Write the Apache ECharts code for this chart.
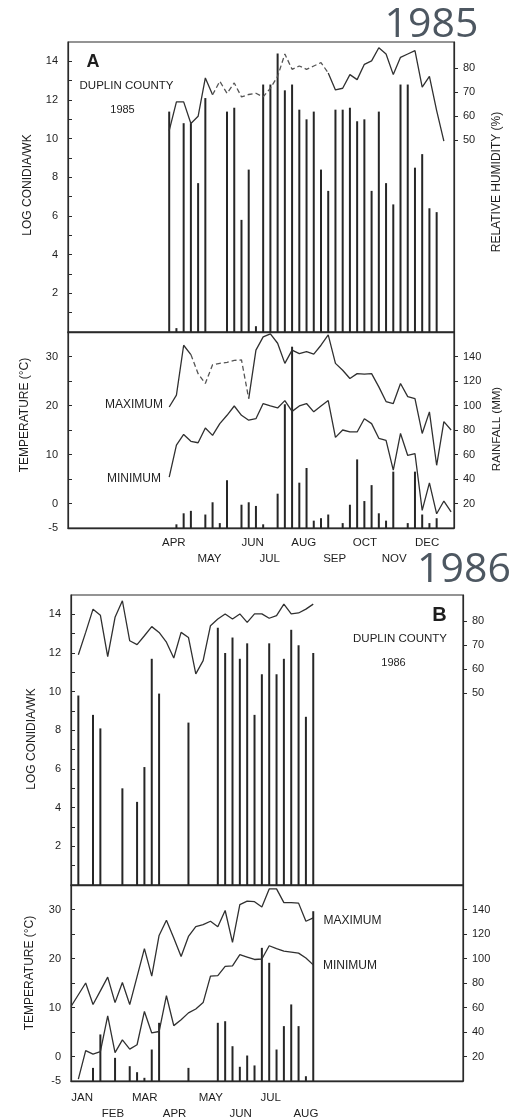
<!DOCTYPE html>
<html>
<head>
<meta charset="utf-8">
<script src="https://cdn.jsdelivr.net/npm/echarts@6/dist/echarts.min.js"></script>
<style>
html,body{margin:0;padding:0;background:#fff;}
#c{width:517px;height:1118px;}
</style>
</head>
<body>
<div id="c"></div>
<script>
// ---------- DATA (x = week of year) ----------
// Panel A (1985)
const conidiaWeeksA = [14,15,16,17,18,19,22,23,24,25,26,27,28,29,30,31,32,33,34,35,36,37,38,39,40,41,42,43,44,45,46,47,48,49,50,51];
const conidiaA = [11.4,0.2,10.8,10.8,7.7,12.1,11.4,11.6,5.8,8.4,0.3,12.8,12.8,14.4,12.5,12.8,11.5,11.0,11.4,8.4,7.3,11.5,11.5,11.6,10.9,11.0,7.3,11.4,7.7,6.6,12.8,12.8,8.5,9.2,6.4,6.2];
const humidityStartA = 14;
const humidityA = [54,66,66,57,60,76,69,74.6,69.6,73.9,68.1,69.1,69.6,68.1,71.7,76.7,86,79.6,81,79.6,81,82.4,78.1,71,71.7,77.4,75.3,81.7,83.1,88.6,86,77.4,84.6,86,87.4,72.2,76.7,62.4,49.6];
const tempStartA = 14;
const maxTempA = [19.7,22.1,32.3,30.4,26.5,24.5,28.3,28.6,28.8,29.2,29.3,21.4,31.3,34.0,34.6,32.7,28.6,31.3,30.6,31.0,30.5,32.3,34.4,28.6,27.2,25.5,26.5,26.4,26.5,23.8,20.8,20.4,24.5,21.8,21.4,14.3,18.7,7.8,16.7,15.0];
const minTempA = [5.4,11.9,14.1,12.7,12.4,15.4,13.9,16.3,18.0,19.9,18.0,17.0,17.3,20.4,19.9,19.5,21.0,18.8,19.9,20.4,18.7,19.9,21.0,13.5,15.0,14.6,14.6,17.3,16.3,13.3,12.9,6.8,14.3,9.8,10.2,-1.4,4.2,-2.1,0.5,-1.7];
const rainWeeksA = [15,16,17,19,20,21,22,24,25,26,27,29,30,31,32,33,34,35,36,38,39,40,41,42,43,44,45,47,48,49,50,51];
const rainA = [3,12,14,11,21,4,39,19,21,18,3,28,101,148,37,49,6,8,11,4,19,56,22,35,12,6,46,4,46,11,4,8];
const monthNamesA = ['APR','MAY','JUN','JUL','AUG','SEP','OCT','NOV','DEC'];
const monthPosA = [13.0,17.9,24.0,26.5,30.9,35.3,39.4,43.4,48.0];

// Panel B (1986)
const conidiaWeeksB = [1,3,4,7,9,10,11,12,16,20,21,22,23,24,25,26,27,28,29,30,31,32,33];
const conidiaB = [9.8,8.8,8.1,5.0,4.3,6.1,11.7,9.9,8.4,13.3,12.0,12.8,11.7,12.5,8.8,10.9,12.5,10.9,11.7,13.2,12.4,8.7,12.0];
const humidityStartB = 1;
const humidityB = [66.1,75.4,85.1,82.6,65.3,81.7,88.6,71.9,70.3,74,77.8,75.4,71.3,64.7,75.4,73.3,58.1,63.6,78.2,81,83.1,81,83.1,79.6,83.1,83.1,81.3,82.4,87.2,83.1,83.5,85.1,87.2];
const maxStartB = 0;
const maxTempB = [10.2,12.6,15.0,10.6,13.4,16.2,11.0,15.1,10.6,16.3,22.0,16.4,24.7,27.8,24.2,20.4,24.5,26.5,26.9,27.6,26.5,29.8,23.3,31.0,31.7,31.6,30.5,34.2,34.2,31.4,31.4,31.3,27.6,28.3];
const minStartB = 1;
const minTempB = [-4.6,1.2,0.5,1.0,8.3,0.8,3.4,1.5,2.4,9.2,4.8,5.1,12.4,6.3,7.5,8.9,9.7,11.0,16.4,16.5,18.4,18.5,20.8,20.3,19.8,19.9,22.6,22.0,21.5,21.3,21.1,20.1,18.7];
const rainWeeksB = [3,4,6,8,9,10,11,12,16,20,21,22,23,24,25,26,27,28,29,30,31,32,33];
const rainB = [10.7,38,18.9,12.1,7.2,2.6,25.7,47.5,10.7,47.5,48.8,28.4,11.6,20.8,12.7,108.7,96.5,25.7,44.8,62.5,44.8,3.9,138.6];
const monthNamesB = ['JAN','FEB','MAR','APR','MAY','JUN','JUL','AUG'];
const monthPosB = [0.05,4.2,8.3,12.5,17.4,21.6,25.8,30.3];

const conidiaTicks = [2,4,6,8,10,12,14];
const humidityTicks = [50,60,70,80];
const tempTicks = [-5,0,10,20,30];
const rainTicks = [20,40,60,80,100,120,140];

// ---------- helpers ----------
const pair = (xs, ys) => xs.map((x, i) => [x, ys[i]]);
const seq = (start, ys) => ys.map((y, i) => [start + i, y]);
// split a line into solid and dashed parts (dashed between weeks a..b)
function solidPart(d, a, b) { return d.map(p => (p[0] > a && p[0] < b) ? [p[0], null] : p); }
function dashPart(d, a, b) { return d.map(p => (p[0] >= a && p[0] <= b) ? p : [p[0], null]); }

const INK = '#2a2a2a';
const FONT = '"Liberation Sans", Arial, sans-serif';

const chart = echarts.init(document.getElementById('c'), null, {renderer: 'canvas'});

const grids = [
  {left: 68, width: 386, top: 42, height: 290},
  {left: 68, width: 386, top: 332, height: 196},
  {left: 71, width: 392, top: 595, height: 290},
  {left: 71, width: 392, top: 885, height: 196}
].map(g => Object.assign(g, {show: true, borderColor: INK, borderWidth: 1.2, backgroundColor: 'transparent', containLabel: false, outerBoundsMode: 'none'}));

function xAx(gi, names, pos, margin) {
  const a = {
    type: 'value', gridIndex: gi, min: 0, max: 53.4,
    splitLine: {show: false},
    axisLine: {show: true, onZero: false, lineStyle: {color: INK, width: 1.4}},
    axisTick: {show: false},
    axisLabel: {show: false}
  };
  if (names) {
    a.axisLabel = {
      show: true, customValues: pos, align: 'left', margin: margin,
      fontFamily: FONT, fontSize: 11.5, color: '#1e1e1e', lineHeight: 16,
      formatter: v => { const i = pos.indexOf(v); return i < 0 ? '' : (i % 2 ? '\n' : '') + names[i]; }
    };
  }
  return a;
}
function yAx(gi, pos, min, max, labels, ticks, inside) {
  return {
    type: 'value', gridIndex: gi, position: pos, min: min, max: max,
    splitLine: {show: false},
    axisLine: {show: true, onZero: false, lineStyle: {color: INK, width: 1.2}},
    axisTick: {show: true, inside: inside, length: 4, customValues: ticks, lineStyle: {color: INK}},
    axisLabel: {show: true, customValues: labels, margin: pos === 'left' ? 10 : 9,
      fontFamily: FONT, fontSize: 11, color: '#1e1e1e'}
  };
}

const hADataFull = seq(humidityStartA, humidityA);
const maxADataFull = seq(tempStartA, maxTempA);

const barStyle = (xi, yi, data, name) => ({
  name: name, type: 'bar', xAxisIndex: xi, yAxisIndex: yi, data: data,
  barWidth: 2, itemStyle: {color: '#262626'}, z: 2, silent: true
});
const lineStyle = (xi, yi, data, name, dashed) => ({
  name: name, type: 'line', xAxisIndex: xi, yAxisIndex: yi, data: data,
  symbol: 'none', connectNulls: false, z: 3, silent: true,
  lineStyle: {color: dashed ? '#555' : '#303030', width: 1.3, type: dashed ? [5, 3] : 'solid'}
});

const option = {
  animation: false,
  backgroundColor: '#ffffff',
  grid: grids,
  xAxis: [
    xAx(0), xAx(1, monthNamesA, monthPosA, 7),
    xAx(2), xAx(3, monthNamesB, monthPosB, 9)
  ],
  yAxis: [
    yAx(0, 'left', 0, 15, conidiaTicks, [1,2,3,4,5,6,7,8,9,10,11,12,13,14], true),
    yAx(0, 'right', -30, 91, humidityTicks, humidityTicks, false),
    yAx(1, 'left', -5, 35, tempTicks, [0,5,10,15,20,25,30], true),
    yAx(1, 'right', 0, 160, rainTicks, rainTicks, false),
    yAx(2, 'left', 0, 15, conidiaTicks, [1,2,3,4,5,6,7,8,9,10,11,12,13,14], true),
    yAx(2, 'right', -30, 91, humidityTicks, humidityTicks, false),
    yAx(3, 'left', -5, 35, tempTicks, [0,5,10,15,20,25,30], true),
    yAx(3, 'right', 0, 160, rainTicks, rainTicks, false)
  ],
  series: [
    barStyle(0, 0, pair(conidiaWeeksA, conidiaA), 'Log conidia 1985'),
    lineStyle(0, 1, solidPart(hADataFull, 20, 36), 'Relative humidity 1985'),
    lineStyle(0, 1, dashPart(hADataFull, 20, 36), 'Relative humidity 1985 (faint)', true),
    barStyle(1, 3, pair(rainWeeksA, rainA), 'Rainfall 1985'),
    lineStyle(1, 2, solidPart(maxADataFull, 17, 25), 'Maximum 1985'),
    lineStyle(1, 2, dashPart(maxADataFull, 17, 25), 'Maximum 1985 (faint)', true),
    lineStyle(1, 2, seq(tempStartA, minTempA), 'Minimum 1985'),
    barStyle(2, 4, pair(conidiaWeeksB, conidiaB), 'Log conidia 1986'),
    lineStyle(2, 5, seq(humidityStartB, humidityB), 'Relative humidity 1986'),
    barStyle(3, 7, pair(rainWeeksB, rainB), 'Rainfall 1986'),
    lineStyle(3, 6, seq(maxStartB, maxTempB), 'Maximum 1986'),
    lineStyle(3, 6, seq(minStartB, minTempB), 'Minimum 1986')
  ],
  graphic: []
};

function txt(t, x, y, size, opts) {
  opts = opts || {};
  const el = {
    type: 'text', x: x, y: y, rotation: opts.rot || 0, silent: true, z: 100,
    style: {
      text: t, x: 0, y: 0,
      font: (opts.weight || 'normal') + ' ' + size + 'px ' + (opts.family || FONT),
      fill: opts.color || '#1e1e1e',
      align: 'center', verticalAlign: 'middle',
      textAlign: 'center', textVerticalAlign: 'middle'
    }
  };
  option.graphic.push(el);
}
const R = Math.PI / 2;
// big year captions
txt('1985', 431.5, 25, 41, {family: '"Open Sans", "Noto Sans", sans-serif', color: '#4d5761'});
txt('1986', 464, 570, 41, {family: '"Open Sans", "Noto Sans", sans-serif', color: '#4d5761'});
// panel A annotations
txt('A', 93, 62, 18, {weight: 'bold'});
txt('DUPLIN COUNTY', 126.5, 86, 11.5);
txt('1985', 122.5, 109.5, 11);
txt('MAXIMUM', 134, 405, 12);
txt('MINIMUM', 134, 479, 12);
// panel B annotations
txt('B', 439.5, 615, 20, {weight: 'bold'});
txt('DUPLIN COUNTY', 400, 638.5, 11.5);
txt('1986', 393.5, 662.5, 11);
txt('MAXIMUM', 352.5, 921, 12);
txt('MINIMUM', 350, 965.5, 12);
// axis titles
txt('LOG CONIDIA/WK', 28, 185, 12, {rot: R});
txt('RELATIVE HUMIDITY (%)', 497, 182, 12, {rot: R});
txt('TEMPERATURE (°C)', 25, 415, 12, {rot: R});
txt('RAINFALL (MM)', 497, 429, 11.5, {rot: R});
txt('LOG CONIDIA/WK', 31.5, 739, 12, {rot: R});
txt('TEMPERATURE (°C)', 30, 973, 12, {rot: R});

chart.setOption(option);
</script>
</body>
</html>
